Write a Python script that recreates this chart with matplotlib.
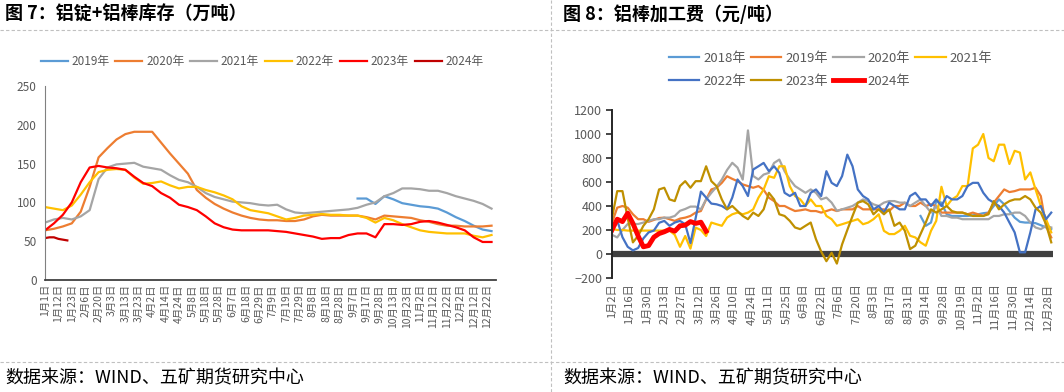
import matplotlib
matplotlib.use('Agg')
import matplotlib.pyplot as plt
from matplotlib.lines import Line2D
import numpy as np

plt.rcParams['font.family'] = ['Noto Sans CJK SC', 'DejaVu Sans']

# ---- left chart: aluminium ingot + rod stocks (10k t), sampled every 2nd report ----
left_labels = ['1月1日', '1月12日', '1月23日', '2月6日', '2月20日', '3月3日', '3月13日', '3月23日',
               '4月2日', '4月14日', '4月24日', '5月8日', '5月18日', '5月28日', '6月7日', '6月18日',
               '6月29日', '7月9日', '7月19日', '7月29日', '8月8日', '8月18日', '8月28日', '9月7日',
               '9月17日', '9月28日', '10月13日', '10月23日', '11月2日', '11月12日', '11月22日',
               '12月2日', '12月12日', '12月22日']
stock_2019 = [105, 105, 98, 108, 104, 99, 97, 95, 94, 92, 87, 81, 76, 70, 65, 63]   # starts at report 70
stock_2020 = [64, 66, 69, 73, 88, 120, 158, 170, 181, 188, 191, 191, 191, 177, 163, 150, 137, 116,
              106, 98, 92, 87, 83, 80, 78, 77, 77, 76, 76, 78, 82, 84, 83, 83, 83, 83, 81, 78, 83,
              82, 81, 80, 77, 75, 72, 70, 70, 69, 69, 69, 70]
stock_2021 = [74, 78, 80, 78, 82, 90, 130, 145, 149, 150, 151, 146, 144, 142, 135, 129, 126, 120,
              112, 107, 104, 101, 100, 99, 97, 96, 97, 91, 87, 86, 87, 88, 89, 90, 91, 93, 97, 100,
              108, 112, 118, 118, 117, 115, 115, 112, 108, 105, 102, 98, 92]
stock_2022 = [94, 92, 90, 96, 110, 126, 139, 142, 143, 142, 132, 124, 125, 127, 122, 118, 120, 120,
              116, 113, 109, 104, 95, 90, 88, 86, 82, 78, 80, 83, 84, 85, 84, 84, 83, 83, 80, 74,
              80, 77, 72, 68, 64, 62, 61, 60, 60, 60, 57, 55, 58]
stock_2023 = [64, 73, 84, 100, 126, 145, 147, 145, 144, 142, 133, 125, 121, 112, 106, 97, 94, 90,
              82, 73, 68, 65, 64, 64, 64, 64, 63, 62, 60, 58, 56, 53, 54, 54, 58, 60, 60, 55, 72,
              72, 71, 72, 75, 76, 74, 71, 68, 64, 55, 49, 49]
stock_2024 = [54, 55, 55, 53, 52, 51]   # every report

# ---- right chart: aluminium rod processing fee (yuan/t), sampled every 3rd trading day ----
right_labels = ['1月2日', '1月16日', '1月30日', '2月13日', '2月27日', '3月12日', '3月26日', '4月10日',
                '4月24日', '5月11日', '5月25日', '6月8日', '6月22日', '7月6日', '7月20日', '8月3日',
                '8月17日', '8月31日', '9月14日', '9月28日', '10月19日', '11月2日', '11月16日',
                '11月30日', '12月14日', '12月28日']
fee_2018 = [317, 235, 262, 441, 428, 331, 317, 317, 317, 317, 322, 331, 340, 345, 400, 455, 414,
            358, 303, 268, 262, 262, 257, 240, 221, 207]   # starts at trading day 177
fee_2019 = [260, 386, 400, 386, 331, 290, 290, 268, 284, 300, 303, 290, 276, 295, 303, 317, 345,
            358, 455, 538, 552, 593, 648, 626, 607, 580, 566, 552, 566, 535, 469, 441, 400, 400,
            378, 358, 364, 372, 358, 358, 345, 358, 372, 358, 372, 372, 372, 400, 372, 372, 372,
            372, 372, 358, 400, 400, 428, 400, 400, 428, 400, 414, 400, 345, 345, 345, 345, 345,
            331, 345, 331, 317, 345, 428, 483, 538, 516, 524, 538, 538, 538, 552, 483, 235, 138]
fee_2020 = [160, 138, 200, 250, 250, 250, 262, 276, 290, 290, 303, 303, 317, 360, 375, 395, 395,
            372, 455, 510, 560, 620, 700, 760, 720, 620, 1030, 650, 621, 662, 676, 759, 787, 690,
            621, 566, 538, 510, 538, 510, 455, 470, 428, 360, 372, 386, 400, 428, 455, 441, 414,
            400, 428, 441, 441, 428, 428, 400, 428, 455, 400, 345, 400, 317, 317, 303, 303, 290,
            290, 290, 290, 290, 290, 317, 317, 331, 331, 345, 345, 317, 262, 221, 207, 235, 221]
fee_2021 = [210, 200, 200, 195, 195, 195, 195, 195, 195, 195, 195, 195, 160, 60, 150, 45, 220, 200,
            150, 262, 248, 235, 303, 331, 345, 331, 345, 372, 469, 538, 648, 635, 731, 731, 566,
            483, 455, 400, 455, 400, 400, 317, 290, 235, 248, 262, 276, 290, 248, 262, 290, 331,
            193, 166, 166, 193, 235, 152, 138, 97, 69, 193, 276, 560, 400, 455, 483, 566, 566, 880,
            911, 1000, 800, 773, 911, 911, 750, 860, 845, 621, 680, 538, 400, 290, 180]
fee_2022 = [220, 280, 140, 60, 30, 50, 130, 180, 195, 260, 276, 235, 262, 276, 248, 90, 300, 520,
            470, 420, 414, 400, 372, 470, 621, 566, 483, 704, 731, 759, 690, 731, 676, 510, 483,
            510, 400, 400, 510, 538, 483, 690, 593, 566, 649, 828, 731, 538, 483, 455, 372, 400,
            345, 428, 400, 372, 372, 483, 510, 455, 455, 400, 455, 400, 483, 455, 455, 483, 566,
            593, 593, 510, 455, 428, 400, 345, 262, 180, 14, 14, 180, 372, 400, 290, 345]
fee_2023 = [300, 524, 524, 300, 97, 152, 235, 290, 372, 538, 552, 455, 441, 566, 607, 552, 607,
            607, 731, 607, 565, 455, 372, 400, 358, 317, 290, 345, 317, 372, 510, 455, 331, 317,
            276, 221, 207, 235, 262, 124, 20, -60, 10, -80, 80, 200, 317, 428, 441, 414, 331, 372,
            331, 372, 235, 262, 193, 41, 69, 166, 262, 372, 345, 372, 400, 358, 345, 345, 331, 317,
            317, 317, 331, 441, 372, 414, 441, 455, 455, 483, 455, 386, 345, 248, 97]
fee_2024 = [200, 290, 270, 340, 255, 150, 60, 70, 140, 170, 185, 205, 190, 235, 240, 270, 255, 265, 190]

grey_txt = '#595959'
fig = plt.figure(figsize=(10.64, 3.92), dpi=100)

# ---------------- left panel ----------------
ax1 = fig.add_axes([45/1064, 112/392, 451/1064, 194/392])
xs = np.arange(0, 101, 2)
ax1.plot(np.arange(70, 101, 2), stock_2019, color='#5B9BD5', lw=1.6, label='2019年')
ax1.plot(xs, stock_2020, color='#ED7D31', lw=1.6, label='2020年')
ax1.plot(xs, stock_2021, color='#A5A5A5', lw=1.6, label='2021年')
ax1.plot(xs, stock_2022, color='#FFC000', lw=1.6, label='2022年')
ax1.plot(xs, stock_2023, color='#FF0000', lw=1.6, label='2023年')
ax1.plot(np.arange(len(stock_2024)), stock_2024, color='#C00000', lw=1.6, label='2024年')
ax1.set_xlim(0, 101)
ax1.set_ylim(0, 250)
ax1.set_yticks([0, 50, 100, 150, 200, 250])
ax1.set_xticks(np.arange(0, 100, 3))
ax1.set_xticklabels(left_labels, rotation=90, fontsize=7.5, color=grey_txt)
ax1.tick_params(axis='y', length=0, labelsize=8.5, labelcolor=grey_txt, pad=6)
ax1.tick_params(axis='x', length=0, pad=3)
for s in ['top', 'right']:
    ax1.spines[s].set_visible(False)
ax1.spines['left'].set_color('#808080')
ax1.spines['bottom'].set_color('#404040')
ax1.spines['bottom'].set_linewidth(1.3)
ax1.legend(loc='center', bbox_to_anchor=(262/1064, 1 - 62/392), bbox_transform=fig.transFigure,
           ncol=6, frameon=False, fontsize=8.5, handlelength=2.3, handletextpad=0.3,
           columnspacing=0.5, labelcolor=grey_txt)

# ---------------- right panel ----------------
ax2 = fig.add_axes([612/1064, 114/392, 441/1064, 168/392])
d = 3
ax2.axhline(0, color='#404040', lw=4.5, zorder=1)
ax2.plot(177 + d*np.arange(len(fee_2018)), fee_2018, color='#5B9BD5', lw=1.6, label='2018年')
ax2.plot(d*np.arange(len(fee_2019)), fee_2019, color='#ED7D31', lw=1.6, label='2019年')
ax2.plot(d*np.arange(len(fee_2020)), fee_2020, color='#A5A5A5', lw=1.6, label='2020年')
ax2.plot(d*np.arange(len(fee_2021)), fee_2021, color='#FFC000', lw=1.6, label='2021年')
ax2.plot(d*np.arange(len(fee_2022)), fee_2022, color='#4472C4', lw=1.6, label='2022年')
ax2.plot(d*np.arange(len(fee_2023)), fee_2023, color='#BF9000', lw=1.6, label='2023年')
ax2.plot(d*np.arange(len(fee_2024)), fee_2024, color='#FF0000', lw=3.5, label='2024年')
ax2.set_xlim(0, 253)
ax2.set_ylim(-200, 1200)
ax2.set_yticks(np.arange(-200, 1201, 200))
ax2.set_xticks(np.arange(0, 251, 10))
ax2.set_xticklabels(right_labels, rotation=90, fontsize=8, color=grey_txt)
ax2.tick_params(axis='y', direction='out', length=4, width=1.2, color='#262626',
                labelsize=9, labelcolor=grey_txt, pad=3)
ax2.tick_params(axis='x', length=0, pad=4)
for s in ['top', 'right', 'bottom']:
    ax2.spines[s].set_visible(False)
ax2.spines['left'].set_color('#262626')
ax2.spines['left'].set_linewidth(1.4)
h, l = ax2.get_legend_handles_labels()
order = [0, 4, 1, 5, 2, 6, 3]   # fill rows like the original
ax2.legend([h[i] for i in order], [l[i] for i in order], loc='upper left',
           bbox_to_anchor=(657/1064, 1 - 40/392), bbox_transform=fig.transFigure,
           ncol=4, frameon=False, fontsize=9.5, handlelength=2.3, handletextpad=0.3,
           columnspacing=0.4, labelspacing=0.75, labelcolor=grey_txt)

# ---------------- frame text & dashed rules ----------------
fig.text(5/1064, 1 - 14/392, '图 7：铝锭+铝棒库存（万吨）', fontsize=13, fontweight='bold', va='center')
fig.text(563/1064, 1 - 14/392, '图 8：铝棒加工费（元/吨）', fontsize=13, fontweight='bold', va='center')
fig.text(5/1064, 1 - 378/392, '数据来源：WIND、五矿期货研究中心', fontsize=13, va='center')
fig.text(563/1064, 1 - 378/392, '数据来源：WIND、五矿期货研究中心', fontsize=13, va='center')
for yy in [1 - 30/392, 1 - 362/392]:
    fig.add_artist(Line2D([0, 1], [yy, yy], transform=fig.transFigure, color='#C0C0C0',
                          lw=0.8, ls=(0, (3, 2))))
fig.add_artist(Line2D([551/1064, 551/1064], [0, 1], transform=fig.transFigure, color='#C0C0C0',
                      lw=0.8, ls=(0, (3, 2))))

plt.savefig('out.png', dpi=100)
